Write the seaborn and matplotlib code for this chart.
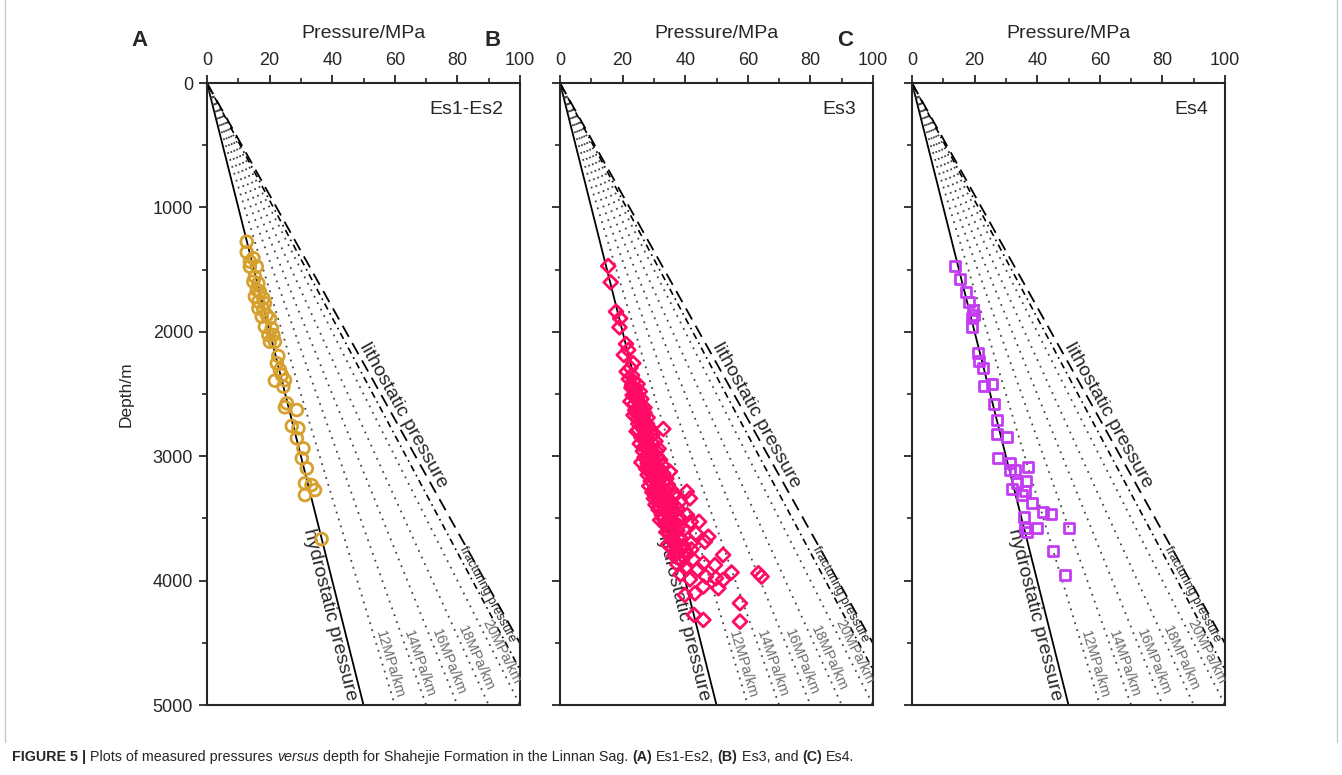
import numpy as np
import matplotlib
matplotlib.use("Agg")
import matplotlib.pyplot as plt
import matplotlib.transforms as mtransforms
from matplotlib.lines import Line2D
from matplotlib.ticker import MultipleLocator
import seaborn as sns

# measured pressures (MPa) and depths (m)
pressure_es12 = [12.7, 12.7, 13.7, 14.8, 13.7, 15.9, 15.3, 14.8, 16.4, 15.9,
                 16.9, 15.3, 18.0, 16.4, 18.5, 16.4, 18.0, 17.5, 19.1, 20.1,
                 18.5, 20.7, 19.6, 21.2, 20.1, 21.7, 22.8, 22.3, 23.3, 23.9,
                 21.7, 24.9, 24.4, 25.5, 24.9, 28.7, 27.1, 29.2, 28.7, 30.8,
                 30.3, 31.9, 31.3, 33.4, 34.5, 31.3, 36.6]
depth_es12 = [1276, 1361, 1436, 1409, 1476, 1476, 1557, 1597, 1610, 1664,
              1677, 1717, 1731, 1758, 1771, 1811, 1819, 1878, 1865, 1892,
              1959, 1972, 2026, 2026, 2080, 2080, 2195, 2253, 2307, 2347,
              2393, 2388, 2441, 2575, 2607, 2629, 2757, 2776, 2856, 2937,
              3017, 3098, 3218, 3232, 3272, 3312, 3666]

pressure_es3 = [15.4, 16.2, 17.9, 19.2, 19.0, 21.1, 21.8, 20.4, 23.4, 21.3,
                22.5, 23.0, 22.0, 23.5, 24.8, 22.8, 24.0, 25.5, 23.2, 24.6,
                26.0, 22.5, 23.8, 25.2, 27.0, 24.0, 25.8, 23.5, 26.5, 28.0,
                24.8, 27.2, 25.0, 26.3, 28.5, 25.0, 33.0, 24.5, 27.5, 29.5,
                26.0, 28.0, 30.5, 25.5, 27.0, 29.0, 31.5, 26.5, 28.5, 30.0,
                27.0, 29.5, 32.0, 26.0, 28.0, 30.5, 33.0, 27.5, 29.0, 35.1,
                31.0, 28.0, 30.0, 32.5, 34.0, 29.0, 31.0, 33.5, 28.5, 30.5,
                32.0, 35.5, 40.5, 29.5, 31.5, 33.0, 36.5, 41.5, 30.0, 38.3,
                32.0, 34.5, 30.5, 33.0, 35.5, 37.5, 31.5, 34.0, 36.5, 40.6,
                32.5, 35.0, 38.0, 33.0, 32.0, 44.4, 41.8, 34.5, 36.5, 33.5,
                38.0, 35.0, 39.5, 43.4, 34.0, 36.5, 47.4, 35.5, 38.5, 46.3,
                41.8, 37.0, 34.5, 39.5, 36.0, 42.0, 38.0, 52.1, 40.5, 36.5,
                45.8, 49.5, 39.0, 42.5, 37.5, 40.0, 44.0, 54.8, 63.4, 64.4,
                46.6, 49.8, 52.1, 38.5, 41.5, 45.8, 50.6, 43.1, 39.9, 57.5,
                42.8, 45.8, 57.5, 23.0, 24.2, 25.0, 26.2, 24.6, 27.0, 26.0,
                27.8, 26.8, 29.0, 27.2, 29.8, 28.2, 30.8, 27.8, 31.0, 29.0,
                31.8, 30.0, 33.0, 29.8, 31.8, 34.5, 30.0, 33.8, 31.0, 34.5,
                32.5, 35.5, 31.8, 36.0, 33.8, 37.0, 35.0, 37.5, 35.8, 38.8,
                37.0, 40.0, 38.0]
depth_es3 = [1471, 1602, 1838, 1892, 1964, 2098, 2146, 2186, 2253, 2320,
             2290, 2350, 2380, 2400, 2420, 2450, 2470, 2480, 2510, 2530,
             2540, 2560, 2580, 2600, 2610, 2630, 2650, 2670, 2680, 2690,
             2700, 2720, 2740, 2760, 2770, 2789, 2781, 2800, 2810, 2830,
             2850, 2870, 2880, 2900, 2920, 2930, 2940, 2960, 2980, 2990,
             3010, 3020, 3030, 3050, 3060, 3070, 3080, 3100, 3110, 3124,
             3130, 3150, 3160, 3170, 3180, 3200, 3210, 3220, 3240, 3250,
             3260, 3270, 3285, 3290, 3300, 3310, 3320, 3339, 3340, 3365,
             3360, 3370, 3390, 3400, 3410, 3420, 3430, 3440, 3450, 3473,
             3470, 3480, 3490, 3500, 3513, 3527, 3527, 3520, 3530, 3550,
             3560, 3580, 3590, 3620, 3610, 3625, 3647, 3650, 3660, 3687,
             3700, 3690, 3710, 3720, 3740, 3750, 3770, 3794, 3790, 3800,
             3861, 3875, 3840, 3830, 3870, 3900, 3910, 3935, 3941, 3968,
             3968, 3981, 3995, 3950, 3990, 4048, 4061, 4102, 4116, 4182,
             4276, 4316, 4330, 2430, 2500, 2560, 2620, 2660, 2650, 2720,
             2740, 2790, 2800, 2860, 2900, 2950, 2960, 3030, 3000, 3080,
             3100, 3130, 3140, 3180, 3190, 3230, 3270, 3280, 3330, 3340,
             3380, 3380, 3410, 3460, 3530, 3550, 3620, 3600, 3680, 3740,
             3780, 3760, 3820]

pressure_es4 = [13.7, 15.3, 17.3, 18.2, 19.4, 19.8, 19.1, 19.1, 21.2, 21.5,
                22.6, 23.0, 25.5, 26.2, 27.3, 27.3, 30.3, 27.6, 31.3, 32.9,
                31.3, 37.2, 33.5, 36.4, 36.1, 31.9, 35.0, 38.2, 41.8, 44.3,
                35.9, 36.1, 39.8, 36.6, 50.3, 45.0, 48.9]
depth_es4 = [1471, 1578, 1682, 1758, 1825, 1865, 1892, 1964, 2173, 2232,
             2294, 2433, 2420, 2583, 2709, 2822, 2843, 3017, 3052, 3111,
             3111, 3089, 3218, 3196, 3277, 3266, 3312, 3379, 3451, 3465,
             3486, 3580, 3580, 3606, 3580, 3759, 3955]

# pressure gradients (MPa/km)
hydro_gradient = 10
grid_gradients = [12, 14, 16, 18, 20]
grid_label_depths = [4690, 4690, 4680, 4650, 4600]
frac_gradient = 21.2
litho_gradient = 22.2

panel_letters = ["A", "B", "C"]
panel_names = ["Es1-Es2", "Es3", "Es4"]
panel_colors = ["#D6A02E", "#FF0A64", "#C43CF2"]
panel_markers = ["o", "D", "s"]
panel_sizes = [72, 50, 52]

sns.set_style("ticks")
plt.rcParams["font.family"] = ["Liberation Sans", "DejaVu Sans"]

W, H = 1342, 775
fig = plt.figure(figsize=(W / 100, H / 100), dpi=100)

datasets = [(pressure_es12, depth_es12), (pressure_es3, depth_es3),
            (pressure_es4, depth_es4)]
lefts = [207, 560, 912]


def line_angle(ax, g):
    a = ax.transData.transform([(0, 0), (g * 5, 5000)])
    return np.degrees(np.arctan2(a[1, 1] - a[0, 1], a[1, 0] - a[0, 0]))


def line_label(ax, g, depth, text, va, gap, **kw):
    ang = line_angle(ax, g)
    nx, ny = -np.sin(np.radians(ang)), np.cos(np.radians(ang))
    sign = 1 if va == "bottom" else -1
    tr = ax.transData + mtransforms.Affine2D().translate(sign * gap * nx, sign * gap * ny)
    ax.text(g * depth / 1000, depth, text, rotation=ang, rotation_mode="anchor",
            ha="center", va=va, transform=tr, **kw)


for i in range(3):
    left = lefts[i]
    ax = fig.add_axes([left / W, 1 - 705 / H, 313 / W, 622 / H])
    ax.set_xlim(0, 100)
    ax.set_ylim(5000, 0)

    d = np.array([0, 5000])
    ax.plot(hydro_gradient * d / 1000, d, color="black", lw=1.3)
    for g in grid_gradients:
        ax.plot(g * d / 1000, d, color="#444444", lw=1.3, ls=(0, (1, 3)))
    ax.plot(frac_gradient * d / 1000, d, color="black", lw=1.2, ls=(0, (4, 2.5, 1, 2.5)))
    ax.plot(litho_gradient * d / 1000, d, color="black", lw=1.3, ls=(0, (7, 4)))

    x, y = datasets[i]
    sns.scatterplot(x=x, y=y, ax=ax, marker=panel_markers[i], s=panel_sizes[i],
                    facecolor="none", edgecolor=panel_colors[i], linewidth=2,
                    zorder=5)

    ax.xaxis.set_ticks_position("top")
    ax.xaxis.set_label_position("top")
    ax.set_xticks(range(0, 101, 20))
    ax.xaxis.set_minor_locator(MultipleLocator(10))
    ax.set_yticks(range(0, 5001, 1000))
    ax.yaxis.set_minor_locator(MultipleLocator(500))
    ax.tick_params(which="major", length=6, width=1.3, labelsize=13, pad=4)
    ax.tick_params(which="minor", length=3.5, width=1.2)
    for s in ax.spines.values():
        s.set_linewidth(1.5)
    ax.set_xlabel("Pressure/MPa", fontsize=14, labelpad=10)
    if i == 0:
        ax.set_ylabel("Depth/m", fontsize=12.5, labelpad=14)
    else:
        ax.set_ylabel("")
        ax.tick_params(axis="y", labelleft=False)

    ax.text(0.946, 0.957, panel_names[i], transform=ax.transAxes, ha="right",
            va="center", fontsize=14)

    line_label(ax, hydro_gradient, 4250, "hydrostatic pressure", "top", 2, fontsize=14)
    line_label(ax, litho_gradient, 2709, "lithostatic pressure", "bottom", 1, fontsize=14)
    line_label(ax, frac_gradient, 4132, "fracturing pressure", "bottom", 1, fontsize=9.2)
    for g, dl in zip(grid_gradients, grid_label_depths):
        line_label(ax, g, dl, f"{g}MPa/km", "bottom", 0.5, fontsize=10.5, color="#6e6e6e")

    fig.text((left - 67) / W, 1 - 40 / H, panel_letters[i], fontsize=16,
             fontweight="bold", ha="center", va="center")

# frame around the figure
for xs, ys in [([5, 5], [0, 742]), ([1337, 1337], [0, 742])]:
    fig.add_artist(Line2D([v / W for v in xs], [1 - v / H for v in ys],
                          color="#c8c8c8", lw=1))

# caption with mixed styles
caption_parts = [("FIGURE 5 |", "bold", "normal", False),
                 ("Plots of measured pressures", "normal", "normal", True),
                 ("versus", "normal", "italic", True),
                 ("depth for Shahejie Formation in the Linnan Sag.", "normal", "normal", True),
                 ("(A)", "bold", "normal", True),
                 ("Es1-Es2,", "normal", "normal", True),
                 ("(B)", "bold", "normal", True),
                 ("Es3, and", "normal", "normal", True),
                 ("(C)", "bold", "normal", True),
                 ("Es4.", "normal", "normal", True)]
cap_family = ["Liberation Sans Narrow", "Liberation Sans", "DejaVu Sans"]
cap_size = 10.3
fig.canvas.draw()
renderer = fig.canvas.get_renderer()
t1 = fig.text(0, 0, "xx", fontsize=cap_size, family=cap_family)
t2 = fig.text(0, 0, "x x", fontsize=cap_size, family=cap_family)
space = t2.get_window_extent(renderer).width - t1.get_window_extent(renderer).width
t1.remove()
t2.remove()
xpos = 12
for txt, weight, style, gap in caption_parts:
    if gap:
        xpos += space
    t = fig.text(xpos / W, 1 - 757 / H, txt, fontsize=cap_size, fontweight=weight,
                 fontstyle=style, family=cap_family, va="center", ha="left")
    xpos += t.get_window_extent(renderer).width

fig.savefig("out.png", dpi=100)
